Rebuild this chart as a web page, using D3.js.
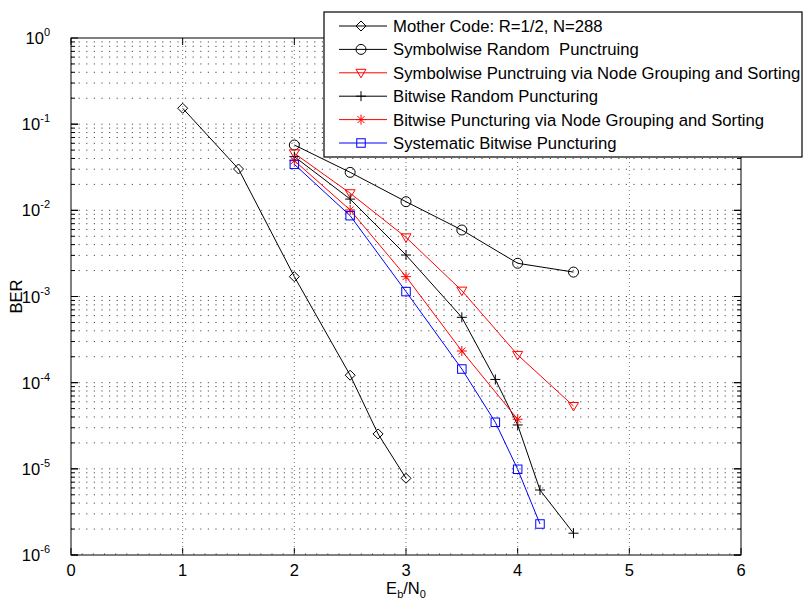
<!DOCTYPE html>
<html lang="en">
  <head>
    <meta charset="UTF-8" />
    <title>BER</title>
    <style>
      body { margin: 0; background: #fff; }
      svg { font-family: "Liberation Sans", Arial, sans-serif; }
      .grid-h { stroke: #000; stroke-width: 1; stroke-dasharray: 1.2, 6.4; stroke-opacity: 0.7; }
      .grid-v { stroke: #777; stroke-width: 1; stroke-dasharray: 1, 3; }
      .line-path { fill: none; stroke-width: 1; }
      .tick-label { font-size: 16.5px; fill: #000; }
      .legend-label { font-size: 16.7px; fill: #000; white-space: pre; }
    </style>
  </head>
  <body>
    <script src="https://d3js.org/d3.v7.min.js"></script>
    <script>
      // data
      const motherX = [1, 1.5, 2, 2.5, 2.75, 3];
      const motherY = [0.153, 0.0302, 1.70e-3, 1.22e-4, 2.54e-5, 7.77e-6];

      const symRandX = [2, 2.5, 3, 3.5, 4, 4.5];
      const symRandY = [0.0573, 0.0276, 0.0126, 5.91e-3, 2.43e-3, 1.92e-3];

      const symNodeX = [2, 2.5, 3, 3.5, 4, 4.5];
      const symNodeY = [0.0459, 0.0158, 4.86e-3, 1.17e-3, 2.10e-4, 5.36e-5];

      const bitRandX = [2, 2.5, 3, 3.5, 3.8, 4, 4.2, 4.5];
      const bitRandY = [0.042, 0.0135, 3.03e-3, 5.73e-4, 1.09e-4, 3.23e-5, 5.68e-6, 1.79e-6];

      const bitNodeX = [2, 2.5, 3, 3.5, 4];
      const bitNodeY = [0.0377, 0.0101, 1.70e-3, 2.33e-4, 3.76e-5];

      const sysBitX = [2, 2.5, 3, 3.5, 3.8, 4, 4.2];
      const sysBitY = [0.0342, 8.67e-3, 1.14e-3, 1.44e-4, 3.47e-5, 9.88e-6, 2.29e-6];

      const seriesNames = [
        "Mother Code: R=1/2, N=288",
        "Symbolwise Random  Punctruing",
        "Symbolwise Punctruing via Node Grouping and Sorting",
        "Bitwise Random Puncturing",
        "Bitwise Puncturing via Node Grouping and Sorting",
        "Systematic Bitwise Puncturing",
      ];
      const seriesColors = ["#000", "#000", "#ff0000", "#000", "#ff0000", "#0000ff"];
      const seriesMarkers = ["diamond", "circle", "triangle", "plus", "star", "square"];

      const xTicks = [0, 1, 2, 3, 4, 5, 6];
      const yDecades = [0, -1, -2, -3, -4, -5, -6];

      const series = [
        [motherX, motherY],
        [symRandX, symRandY],
        [symNodeX, symNodeY],
        [bitRandX, bitRandY],
        [bitNodeX, bitNodeY],
        [sysBitX, sysBitY],
      ].map(([xs, ys], i) => ({
        name: seriesNames[i],
        color: seriesColors[i],
        marker: seriesMarkers[i],
        values: xs.map((x, j) => ({ x, y: ys[j] })),
      }));

      const W = 803, H = 603;
      const margin = { top: 38, right: 62, bottom: 48, left: 71 };

      const svg = d3.select("body").append("svg").attr("width", W).attr("height", H);

      const xScale = d3.scaleLinear().domain([0, 6]).range([margin.left, W - margin.right]);
      const yScale = d3.scaleLog().domain([1e-6, 1]).range([H - margin.bottom, margin.top]);

      const x0 = xScale(0), x1 = xScale(6), y0 = yScale(1e-6), y1 = yScale(1);

      // grid
      const minorVals = [];
      yDecades.slice(0, -1).forEach((e) => {
        for (let k = 1; k <= 9; k++) minorVals.push(k * Math.pow(10, e - 1));
      });
      svg.append("g").selectAll("line").data(minorVals.filter((v) => v > 1e-6 && v < 1)).join("line")
        .attr("class", "grid-h")
        .attr("x1", x0).attr("x2", x1)
        .attr("y1", (d) => yScale(d)).attr("y2", (d) => yScale(d));
      svg.append("g").selectAll("line").data(xTicks.slice(1, -1)).join("line")
        .attr("class", "grid-v")
        .attr("x1", xScale).attr("x2", xScale)
        .attr("y1", y0).attr("y2", y1);

      // axis ticks (inward, mirrored)
      const tickG = svg.append("g").attr("stroke", "#000").attr("stroke-width", 1);
      xTicks.forEach((t) => {
        tickG.append("line").attr("x1", xScale(t)).attr("x2", xScale(t)).attr("y1", y0).attr("y2", y0 - 7);
        tickG.append("line").attr("x1", xScale(t)).attr("x2", xScale(t)).attr("y1", y1).attr("y2", y1 + 7);
      });
      d3.range(0, 6.01, 0.1).forEach((t) => {
        tickG.append("line").attr("stroke", "#999").attr("x1", xScale(t)).attr("x2", xScale(t)).attr("y1", y0).attr("y2", y0 - 2);
      });
      minorVals.concat(yDecades.map((e) => Math.pow(10, e))).filter((v) => v >= 1e-6 && v <= 1).forEach((v) => {
        const isMajor = Math.abs(Math.log10(v) - Math.round(Math.log10(v))) < 1e-9;
        const len = isMajor ? 7 : 4;
        tickG.append("line").attr("x1", x0).attr("x2", x0 + len).attr("y1", yScale(v)).attr("y2", yScale(v));
        tickG.append("line").attr("x1", x1).attr("x2", x1 - len).attr("y1", yScale(v)).attr("y2", yScale(v));
      });

      // frame
      svg.append("rect").attr("x", x0).attr("y", y1).attr("width", x1 - x0).attr("height", y0 - y1)
        .attr("fill", "none").attr("stroke", "#000").attr("stroke-width", 1);

      // tick labels
      svg.append("g").selectAll("text").data(xTicks).join("text")
        .attr("class", "tick-label")
        .attr("x", xScale).attr("y", y0 + 21)
        .attr("text-anchor", "middle")
        .text((d) => d);

      const yl = svg.append("g").selectAll("text").data(yDecades).join("text")
        .attr("class", "tick-label")
        .attr("x", x0 - 21).attr("y", (d) => yScale(Math.pow(10, d)) + 6)
        .attr("text-anchor", "end");
      yl.append("tspan").text("10");
      yl.append("tspan").attr("dy", -8).attr("font-size", 11).text((d) => d);

      // axis titles
      const xt = svg.append("text").attr("class", "tick-label").attr("text-anchor", "middle")
        .attr("x", (x0 + x1) / 2).attr("y", H - 9);
      xt.append("tspan").text("E");
      xt.append("tspan").attr("font-size", 11).attr("dy", 4).text("b");
      xt.append("tspan").attr("dy", -4).text("/N");
      xt.append("tspan").attr("font-size", 11).attr("dy", 4).text("0");

      svg.append("text").attr("class", "tick-label").attr("text-anchor", "middle")
        .attr("transform", `translate(22, ${(y0 + y1) / 2}) rotate(-90)`)
        .text("BER");

      // markers
      function drawMarker(g, type, color) {
        const s = 5;
        if (type === "diamond") {
          g.append("path").attr("d", `M0,${-s}L${s},0L0,${s}L${-s},0Z`).attr("fill", "none").attr("stroke", color);
        } else if (type === "circle") {
          g.append("circle").attr("r", s).attr("fill", "none").attr("stroke", color);
        } else if (type === "triangle") {
          g.append("path").attr("d", `M${-s},${-s * 0.7}L${s},${-s * 0.7}L0,${s * 1}Z`).attr("fill", "none").attr("stroke", color);
        } else if (type === "plus") {
          g.append("path").attr("d", `M${-s},0H${s}M0,${-s}V${s}`).attr("stroke", color);
        } else if (type === "star") {
          const d = s * 0.7;
          g.append("path").attr("d", `M${-s},0H${s}M0,${-s}V${s}M${-d},${-d}L${d},${d}M${-d},${d}L${d},${-d}`).attr("stroke", color);
        } else if (type === "square") {
          const q = s * 0.85;
          g.append("rect").attr("x", -q).attr("y", -q).attr("width", 2 * q).attr("height", 2 * q)
            .attr("fill", "none").attr("stroke", color);
        }
      }

      const line = d3.line().x((d) => xScale(d.x)).y((d) => yScale(d.y));

      const groups = svg.append("g").selectAll("g").data(series).join("g");
      groups.append("path").attr("class", "line-path").attr("d", (d) => line(d.values)).attr("stroke", (d) => d.color);
      groups.each(function (s) {
        const g = d3.select(this);
        s.values.forEach((v) => {
          drawMarker(g.append("g").attr("transform", `translate(${xScale(v.x)},${yScale(v.y)})`), s.marker, s.color);
        });
      });

      // legend
      const lg = svg.append("g");
      lg.append("rect").attr("x", 324).attr("y", 12).attr("width", 478).attr("height", 145)
        .attr("fill", "#fff").attr("stroke", "#000").attr("stroke-width", 1.2);
      series.forEach((s, i) => {
        const yy = 26 + i * 23.4;
        lg.append("line").attr("x1", 339).attr("x2", 387).attr("y1", yy).attr("y2", yy).attr("stroke", s.color);
        drawMarker(lg.append("g").attr("transform", `translate(361,${yy})`), s.marker, s.color);
        lg.append("text").attr("class", "legend-label").attr("x", 393).attr("y", yy + 6).text(s.name);
      });
    </script>
  </body>
</html>
